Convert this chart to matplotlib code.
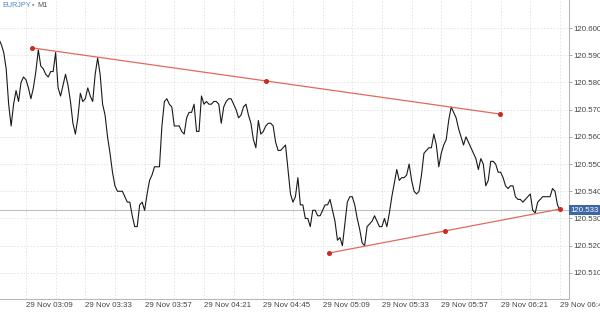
import matplotlib
matplotlib.use("Agg")
import matplotlib.dates as mdates
import matplotlib.pyplot as plt
import matplotlib.ticker as mticker
import matplotlib.transforms as mtransforms
import pandas as pd

plt.rcParams["font.family"] = ["Liberation Sans", "DejaVu Sans"]

symbol = "EURJPY"
timeframe = "M1"
day = "2021-11-29"
first_bar = "02:58"

# one close per minute, 02:58 .. 06:45
closes = [
    120.596, 120.594, 120.591, 120.585, 120.572, 120.564, 120.572, 120.577, 120.573, 120.580, 120.582, 120.581,
    120.578, 120.574, 120.578, 120.584, 120.592, 120.586, 120.585, 120.583, 120.582, 120.584, 120.584, 120.591,
    120.578, 120.575, 120.579, 120.583, 120.579, 120.573, 120.565, 120.561, 120.567, 120.576, 120.573, 120.574,
    120.578, 120.575, 120.573, 120.583, 120.589, 120.583, 120.572, 120.568, 120.560, 120.554, 120.547, 120.542,
    120.540, 120.540, 120.540, 120.538, 120.536, 120.536, 120.531, 120.527, 120.527, 120.535, 120.536, 120.533,
    120.539, 120.544, 120.546, 120.549, 120.549, 120.549, 120.564, 120.573, 120.574, 120.572, 120.571, 120.564,
    120.564, 120.564, 120.562, 120.561, 120.567, 120.569, 120.569, 120.572, 120.562, 120.562, 120.575, 120.572,
    120.573, 120.572, 120.572, 120.573, 120.573, 120.572, 120.565, 120.571, 120.573, 120.574, 120.574, 120.572,
    120.570, 120.567, 120.568, 120.571, 120.572, 120.568, 120.565, 120.559, 120.556, 120.566, 120.561, 120.562,
    120.564, 120.565, 120.565, 120.564, 120.558, 120.555, 120.555, 120.556, 120.557, 120.548, 120.539, 120.536,
    120.538, 120.545, 120.535, 120.535, 120.530, 120.530, 120.527, 120.533, 120.533, 120.531, 120.531, 120.533,
    120.535, 120.535, 120.537, 120.533, 120.529, 120.522, 120.523, 120.520, 120.528, 120.536, 120.538, 120.538,
    120.535, 120.530, 120.526, 120.521, 120.520, 120.527, 120.528, 120.529, 120.531, 120.529, 120.527, 120.527,
    120.530, 120.527, 120.532, 120.538, 120.543, 120.548, 120.544, 120.545, 120.545, 120.546, 120.550, 120.544,
    120.540, 120.539, 120.540, 120.546, 120.554, 120.555, 120.556, 120.556, 120.561, 120.557, 120.549, 120.554,
    120.557, 120.559, 120.566, 120.571, 120.569, 120.567, 120.563, 120.560, 120.557, 120.560, 120.558, 120.556,
    120.554, 120.552, 120.548, 120.552, 120.550, 120.542, 120.544, 120.551, 120.551, 120.550, 120.547, 120.547,
    120.545, 120.542, 120.541, 120.542, 120.542, 120.538, 120.537, 120.537, 120.536, 120.537, 120.538, 120.539,
    120.533, 120.532, 120.536, 120.537, 120.538, 120.538, 120.538, 120.538, 120.541, 120.540, 120.535, 120.533,
]
last_price = 120.533

upper_line_times = ["03:11:30", "06:20:40"]
upper_line_prices = [120.5927, 120.5684]
lower_line_times = ["05:11:36", "06:45:12"]
lower_line_prices = [120.5173, 120.5335]

price_ticks = [120.510, 120.520, 120.530, 120.540, 120.550,
               120.560, 120.570, 120.580, 120.590, 120.600]
first_label_time = "03:09"
last_label_time = "06:45"


def ts(hhmm):
    return pd.Timestamp(f"{day} {hhmm}")


times = pd.date_range(start=ts(first_bar), periods=len(closes), freq="min")

fig = plt.figure(figsize=(6, 3.12), dpi=100)
ax = fig.add_axes([0, 13 / 312, 569 / 600, 299 / 312])

grid_color = "#e2e2e2"
ax.plot(times, closes, color="#1a1a1a", linewidth=0.8, zorder=3)

ax.axhline(last_price, color="#b9c3cc", linewidth=0.8, zorder=2)

for t_list, p_list in ((upper_line_times, upper_line_prices),
                       (lower_line_times, lower_line_prices)):
    t = [ts(x) for x in t_list]
    mid_t = t[0] + (t[1] - t[0]) / 2
    mid_p = (p_list[0] + p_list[1]) / 2
    ax.plot(t, p_list, color="#e06a5c", linewidth=0.9, zorder=4)
    ax.plot([t[0], mid_t, t[1]], [p_list[0], mid_p, p_list[1]], "o",
            color="#cc2a22", markersize=2.6, zorder=5, clip_on=False)

# x axis: labels every 24 min, grid every 12 min
major = pd.date_range(ts(first_label_time), ts(last_label_time), freq="24min")
minor = pd.date_range(ts(first_label_time) - pd.Timedelta(minutes=12),
                      ts(last_label_time), freq="12min")
ax.set_xticks(major)
ax.set_xticks(minor, minor=True)
ax.xaxis.set_major_formatter(mdates.DateFormatter("%d %b %H:%M"))
for lbl in ax.get_xticklabels():
    lbl.set_horizontalalignment("left")
ax.tick_params(axis="x", which="both", length=0, pad=2, labelsize=5.7,
               labelcolor="#444444")

ax.set_yticks(price_ticks)
ax.yaxis.set_major_formatter(mticker.FormatStrFormatter("%.3f"))
ax.yaxis.tick_right()
ax.tick_params(axis="y", length=2, width=0.6, color="#999999", pad=1,
               labelsize=5.7, labelcolor="#444444")

ax.set_xlim(ts("02:58:30"), ts("06:48:40"))
ax.set_ylim(120.5004, 120.6103)

ax.grid(True, which="both", axis="x", color=grid_color, linestyle=(0, (2, 2)), linewidth=0.6)
ax.grid(True, which="major", axis="y", color=grid_color, linestyle=(0, (2, 2)), linewidth=0.6)

for side in ("left", "top"):
    ax.spines[side].set_visible(False)
for side in ("right", "bottom"):
    ax.spines[side].set_color("#b8b8b8")
    ax.spines[side].set_linewidth(0.8)

trans = mtransforms.blended_transform_factory(ax.transAxes, ax.transData)
ax.text(1.003, last_price, f"{last_price:.3f}", transform=trans, fontsize=5.7,
        color="white", va="center", ha="left", zorder=6, clip_on=False,
        bbox=dict(boxstyle="square,pad=0.2", facecolor="#3d66a6", edgecolor="none"))

fig.text(2 / 600, 1 - 2 / 312, symbol, color="#4a86c8", fontsize=5.2, va="top", ha="left")
fig.text(32 / 600, 1 - 2 / 312, "•", color="#888888", fontsize=5.2, va="top", ha="left")
fig.text(37.5 / 600, 1 - 2 / 312, timeframe, color="#555555", fontsize=5.2, va="top", ha="left")

fig.savefig("out.png", dpi=100)
plt.close(fig)
